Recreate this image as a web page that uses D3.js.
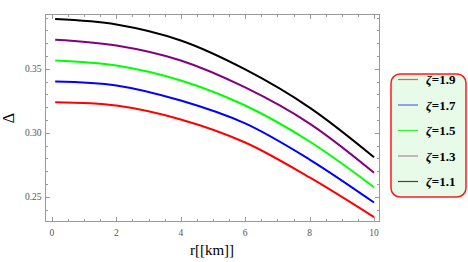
<!DOCTYPE html>
<html>
<head>
<meta charset="utf-8">
<script src="https://cdn.jsdelivr.net/npm/d3@7"></script>
<style>
  body { margin: 0; background: #fff; }
  svg { display: block; }
</style>
</head>
<body>
<div id="content"></div>
<script>
// data
var rValues  = [0.1, 2, 4, 6, 8, 10];
var zetas    = ['1.9', '1.7', '1.5', '1.3', '1.1'];
var delta19  = [0.3239, 0.3213, 0.3104, 0.2924, 0.2651, 0.2341];
var delta17  = [0.3401, 0.3370, 0.3252, 0.3073, 0.2791, 0.2455];
var delta15  = [0.3565, 0.3526, 0.3409, 0.3213, 0.2932, 0.2575];
var delta13  = [0.3727, 0.3682, 0.3565, 0.3354, 0.3072, 0.2688];
var delta11  = [0.3888, 0.3846, 0.3721, 0.3495, 0.3197, 0.2809];
var xTicks   = [0, 2, 4, 6, 8, 10];
var yTicks   = [0.25, 0.30, 0.35];

var seriesData = [delta19, delta17, delta15, delta13, delta11];
var lineColors = ['#ff0000', '#0000ff', '#00ff00', '#800080', '#000000'];
var keyColors  = ['#ff5555', '#5566ff', '#33ee33', '#aa88aa', '#444444'];

var W = 468, H = 262;
var svg = d3.select('#content').append('svg').attr('width', W).attr('height', H);

var pLeft = 45.5, pRight = 379.5, pTop = 14.5, pBottom = 221.5;

var x = d3.scaleLinear().domain([-0.2, 10.17]).range([pLeft, pRight]);
var y = d3.scaleLinear().domain([0.2307, 0.3924]).range([pBottom, pTop]);

var frameColor = '#9a9a9a';
var tickFont = 'Liberation Serif, DejaVu Serif, serif';

// frame
svg.append('rect').attr('x', pLeft).attr('y', pTop)
  .attr('width', pRight - pLeft).attr('height', pBottom - pTop)
  .attr('fill', 'none').attr('stroke', frameColor).attr('stroke-width', 1);

// ticks
var xMinor = d3.range(0, 10.01, 0.5);
var yMinor = d3.range(0.24, 0.395, 0.01);
xMinor.forEach(function(v){
  var major = Math.abs(v - Math.round(v / 2) * 2) < 1e-6;
  var len = major ? 4.5 : 2.5;
  var xx = Math.round(x(v)) + 0.5;
  svg.append('line').attr('x1', xx).attr('x2', xx).attr('y1', pBottom).attr('y2', pBottom - len)
    .attr('stroke', frameColor);
  svg.append('line').attr('x1', xx).attr('x2', xx).attr('y1', pTop).attr('y2', pTop + len)
    .attr('stroke', frameColor);
});
yMinor.forEach(function(v){
  if (v < 0.2307 || v > 0.3924) return;
  var major = yTicks.some(function(t){ return Math.abs(t - v) < 1e-6; });
  var len = major ? 4.5 : 2.5;
  var yy = Math.round(y(v)) + 0.5;
  svg.append('line').attr('x1', pLeft).attr('x2', pLeft + len).attr('y1', yy).attr('y2', yy)
    .attr('stroke', frameColor);
  svg.append('line').attr('x1', pRight).attr('x2', pRight - len).attr('y1', yy).attr('y2', yy)
    .attr('stroke', frameColor);
});

// tick labels
svg.selectAll('.xl').data(xTicks).enter().append('text')
  .attr('x', function(d){ return x(d); }).attr('y', pBottom + 14)
  .attr('text-anchor', 'middle').attr('font-family', tickFont).attr('font-size', 9.5)
  .attr('fill', '#555').text(function(d){ return d; });
svg.selectAll('.yl').data(yTicks).enter().append('text')
  .attr('x', pLeft - 4).attr('y', function(d){ return y(d) + 3; })
  .attr('text-anchor', 'end').attr('font-family', tickFont).attr('font-size', 9.5)
  .attr('fill', '#555').text(function(d){ return d3.format('.2f')(d); });

// axis titles
svg.append('text').attr('transform', 'translate(14,118) rotate(-90)')
  .attr('text-anchor', 'middle').attr('font-family', 'Liberation Serif, serif').attr('font-size', 16)
  .text('Δ');
svg.append('text').attr('x', 212).attr('y', 255)
  .attr('text-anchor', 'middle').attr('font-family', 'Liberation Serif, serif').attr('font-size', 15)
  .text('r[[km]]');

// curves
var line = d3.line()
  .x(function(d, i){ return x(rValues[i]); })
  .y(function(d){ return y(d); })
  .curve(d3.curveCatmullRom.alpha(0.5));

seriesData.forEach(function(s, i){
  svg.append('path').attr('d', line(s)).attr('fill', 'none')
    .attr('stroke', lineColors[i]).attr('stroke-width', 2);
});

// legend
var lg = svg.append('g');
lg.append('rect').attr('x', 391).attr('y', 74).attr('width', 75).attr('height', 123)
  .attr('rx', 9).attr('ry', 9)
  .attr('fill', '#e8fae8').attr('stroke', '#ff1a1a').attr('stroke-width', 1.5);
zetas.forEach(function(z, i){
  var yy = 79.5 + i * 25.5;
  lg.append('rect').attr('x', 398).attr('y', yy - 0.6).attr('width', 20).attr('height', 1.2)
    .attr('fill', keyColors[i]);
  var t = lg.append('text').attr('x', 426).attr('y', yy + 4.5)
    .attr('font-family', 'Liberation Serif, serif').attr('font-size', 13).attr('font-weight', 'bold');
  t.append('tspan').attr('font-style', 'italic').text('ζ');
  t.append('tspan').text('=' + z);
});
</script>
</body>
</html>
